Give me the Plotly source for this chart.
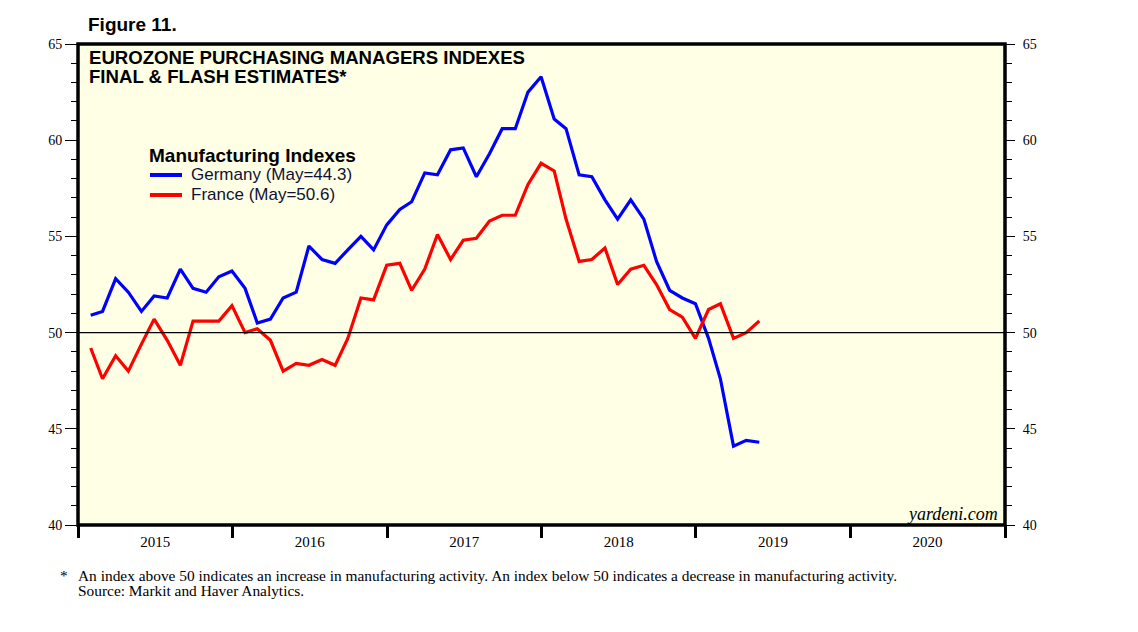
import pandas as pd
import plotly.graph_objects as go

months = pd.date_range("2015-01-31", periods=53, freq="ME")

germany = [50.9, 51.1, 52.8, 52.1, 51.1, 51.9, 51.8, 53.3, 52.3, 52.1, 52.9, 53.2,
           52.3, 50.5, 50.7, 51.8, 52.1, 54.5, 53.8, 53.6, 54.3, 55.0, 54.3, 55.6,
           56.4, 56.8, 58.3, 58.2, 59.5, 59.6, 58.1, 59.3, 60.6, 60.6, 62.5, 63.3,
           61.1, 60.6, 58.2, 58.1, 56.9, 55.9, 56.9, 55.9, 53.7, 52.2, 51.8, 51.5,
           49.7, 47.6, 44.1, 44.4, 44.3]
france = [49.2, 47.6, 48.8, 48.0, 49.4, 50.7, 49.6, 48.3, 50.6, 50.6, 50.6, 51.4,
          50.0, 50.2, 49.6, 48.0, 48.4, 48.3, 48.6, 48.3, 49.7, 51.8, 51.7, 53.5,
          53.6, 52.2, 53.3, 55.1, 53.8, 54.8, 54.9, 55.8, 56.1, 56.1, 57.7, 58.8,
          58.4, 55.9, 53.7, 53.8, 54.4, 52.5, 53.3, 53.5, 52.5, 51.2, 50.8, 49.7,
          51.2, 51.5, 49.7, 50.0, 50.6]
series_names = ["Germany (May=44.3)", "France (May=50.6)"]
series_colors = ["#0000FF", "#FF0000"]
y_ticks = [40, 45, 50, 55, 60, 65]

SERIF = "Liberation Serif"
SANS = "Liberation Sans"

fig = go.Figure()
for name, vals, col in zip(series_names, [germany, france], series_colors):
    fig.add_trace(go.Scatter(x=months, y=vals, mode="lines", name=name,
                             showlegend=False, line=dict(color=col, width=3.2)))
# invisible trace for the right axis
fig.add_trace(go.Scatter(x=[months[0]], y=[50], yaxis="y2", mode="lines",
                         showlegend=False, hoverinfo="skip", line=dict(width=0)))

fig.add_hline(y=50, line=dict(color="black", width=1.2))

fig.update_layout(
    width=1138, height=632,
    margin=dict(l=70, r=141, t=36, b=115),
    paper_bgcolor="white",
    plot_bgcolor="#FFFFE5",
    showlegend=False,
    xaxis=dict(
        type="date",
        range=["2015-01-01", "2021-01-01"],
        dtick="M12", tick0="2015-01-01",
        ticklabelmode="period", tickformat="%Y",
        ticks="outside", ticklen=12, tickwidth=2.5, tickcolor="black",
        ticklabelstandoff=-9,
        showgrid=False, zeroline=False,
        showline=False,
        tickfont=dict(family=SERIF, size=15, color="black"),
    ),
    yaxis=dict(
        range=[40, 65], tickvals=y_ticks,
        ticks="outside", ticklen=12, tickwidth=1, tickcolor="black",
        minor=dict(dtick=1, ticks="outside", ticklen=6, tickwidth=1, tickcolor="black"),
        showgrid=False, zeroline=False, showline=False,
        tickfont=dict(family=SERIF, size=14, color="black"),
    ),
    yaxis2=dict(
        range=[40, 65], tickvals=y_ticks, overlaying="y", side="right",
        ticks="outside", ticklen=9, tickwidth=1, tickcolor="black",
        ticklabelstandoff=5,
        minor=dict(dtick=1, ticks="outside", ticklen=6, tickwidth=1, tickcolor="black"),
        showgrid=False, zeroline=False, showline=False,
        tickfont=dict(family=SERIF, size=14, color="black"),
    ),
)

# plot frame
fig.add_shape(type="rect", xref="paper", yref="paper", x0=0, x1=1, y0=0, y1=1,
              line=dict(color="black", width=3.5), layer="above")


def px_x(px):
    return (px - 78) / 927


def px_y(py):
    return (525 - py) / 481


# legend (title, line samples and labels)
legend_rows_y = [175, 195]
for name, col, ly in zip(series_names, series_colors, legend_rows_y):
    fig.add_shape(type="line", xref="paper", yref="paper",
                  x0=px_x(150), x1=px_x(182), y0=px_y(ly), y1=px_y(ly),
                  line=dict(color=col, width=4))
    fig.add_annotation(text=name, xref="paper", yref="paper", x=px_x(190), y=px_y(ly),
                       xanchor="left", yanchor="middle", showarrow=False, borderpad=0,
                       font=dict(family=SANS, size=17, color="#111133"))

ann = [
    dict(text="<b>Manufacturing Indexes</b>", x=148, y=155, font=dict(family=SANS, size=19)),
    dict(text="<b>Figure 11.</b>", x=87, y=25, font=dict(family=SANS, size=19)),
    dict(text="<b>EUROZONE PURCHASING MANAGERS INDEXES</b>", x=88, y=57.5, font=dict(family=SANS, size=18.6)),
    dict(text="<b>FINAL &amp; FLASH ESTIMATES*</b>", x=88, y=77, font=dict(family=SANS, size=18.6)),
    dict(text="*", x=59, y=575, font=dict(family=SERIF, size=15.4)),
    dict(text="An index above 50 indicates an increase in manufacturing activity. An index below 50 indicates a decrease in manufacturing activity.",
         x=77, y=575, font=dict(family=SERIF, size=15.4)),
    dict(text="Source: Markit and Haver Analytics.", x=77, y=590, font=dict(family=SERIF, size=15.4)),
]
for a in ann:
    fig.add_annotation(text=a["text"], xref="paper", yref="paper",
                       x=px_x(a["x"]), y=px_y(a["y"]),
                       xanchor="left", yanchor="middle", showarrow=False, borderpad=0,
                       font=dict(color="black", **a["font"]))
fig.add_annotation(text="<i>yardeni.com</i>", xref="paper", yref="paper",
                   x=px_x(999), y=px_y(514), xanchor="right", yanchor="middle",
                   showarrow=False, borderpad=0, font=dict(family=SERIF, size=18, color="black"))

fig.write_html("out.html")
